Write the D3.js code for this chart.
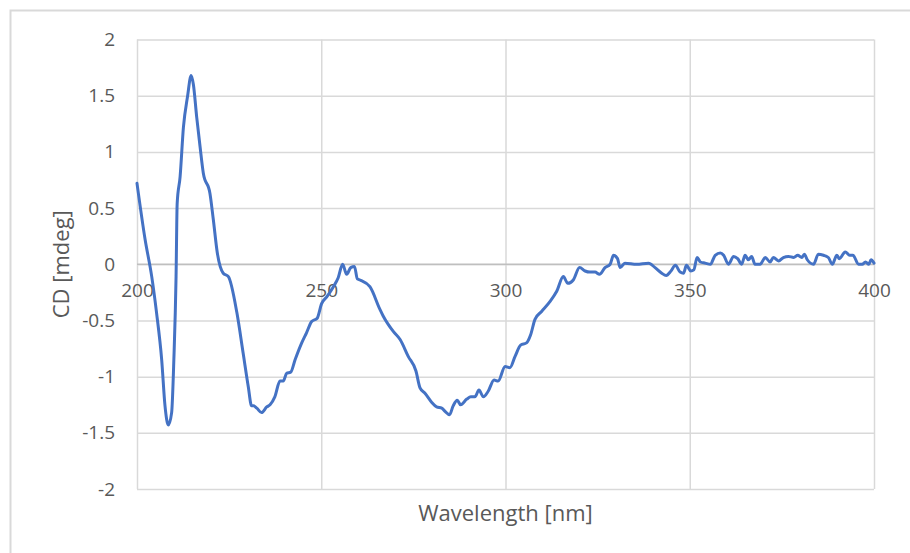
<!DOCTYPE html>
<html>
<head>
<meta charset="utf-8">
<script src="https://cdn.jsdelivr.net/npm/d3@7"></script>
<style>
  html, body { margin: 0; padding: 0; background: #fff; }
  svg { display: block; }
  text { font-family: "Open Sans", "Liberation Sans", sans-serif; fill: #595959; }
</style>
</head>
<body>
<svg id="chart" width="910" height="553"></svg>
<script>
// CD spectrum: wavelength (nm) and ellipticity (mdeg)
const wavelength = [
  200.0, 202.2, 204.0, 205.3, 206.7, 207.6, 208.5, 209.4, 210.0, 210.6,
  210.9, 211.7, 212.6, 213.7, 214.7, 215.3, 216.2, 217.1, 218.0, 219.8,
  220.7, 221.8, 223.4, 224.8, 227.1, 228.8, 230.2, 231.1, 231.6, 232.5,
  233.8, 235.2, 236.1, 237.4, 238.8, 239.7, 240.6, 241.7, 242.9, 244.7,
  246.0, 247.4, 248.9, 250.1, 251.5, 253.3, 254.6, 255.8, 256.9, 258.0,
  259.0, 259.8, 260.5, 263.2, 265.9, 266.8, 269.6, 271.4, 273.6, 275.7,
  276.8, 278.2, 280.0, 281.3, 282.7, 283.6, 284.8, 285.8, 286.9, 287.8,
  289.5, 290.6, 291.7, 292.8, 294.0, 295.3, 296.9, 298.0, 299.9, 301.2,
  302.6, 304.1, 305.7, 306.8, 308.0, 309.8, 312.1, 313.9, 315.7, 316.9,
  318.4, 320.1, 321.6, 322.9, 324.3, 325.5, 327.0, 328.4, 329.3, 330.4,
  331.1, 332.4, 335.6, 338.8, 340.6, 342.4, 343.6, 344.9, 346.1, 347.4,
  348.3, 349.1, 350.3, 351.1, 352.0, 352.9, 354.2, 355.6, 356.9, 358.3,
  359.2, 360.5, 361.9, 363.0, 364.1, 365.0, 365.9, 366.8, 367.7, 369.1,
  370.5, 371.8, 372.7, 374.1, 375.4, 376.8, 378.2, 379.3, 380.4, 381.1,
  381.9, 383.6, 384.9, 386.3, 387.6, 388.7, 389.9, 390.6, 392.2, 393.4,
  394.3, 395.8, 396.8, 397.7, 398.6, 399.2, 400.0
];
const cd = [
   0.72,  0.22, -0.11, -0.43, -0.85, -1.26, -1.43, -1.32, -0.85, -0.11,
   0.54,  0.78,  1.22,  1.49,  1.68,  1.60,  1.31,  1.05,  0.81,  0.63,
   0.40,  0.10, -0.08, -0.11, -0.43, -0.79, -1.09, -1.26, -1.26, -1.28,
  -1.32, -1.27, -1.25, -1.18, -1.04, -1.04, -0.97, -0.96, -0.85, -0.70,
  -0.61, -0.51, -0.48, -0.35, -0.29, -0.20, -0.12,  0.00, -0.09, -0.03,
  -0.02, -0.13, -0.14, -0.20, -0.40, -0.46, -0.60, -0.67, -0.82, -0.95,
  -1.10, -1.15, -1.23, -1.27, -1.28, -1.31, -1.34, -1.26, -1.21, -1.25,
  -1.20, -1.18, -1.18, -1.12, -1.18, -1.13, -1.03, -1.04, -0.91, -0.92,
  -0.82, -0.72, -0.70, -0.63, -0.49, -0.42, -0.33, -0.24, -0.11, -0.17,
  -0.14, -0.03, -0.06, -0.07, -0.07, -0.09, -0.03,  0.00,  0.08,  0.05,
  -0.03,  0.01,  0.00,  0.01, -0.03, -0.08, -0.10, -0.06, -0.01, -0.07,
  -0.08, -0.01, -0.06, -0.05,  0.06,  0.02,  0.01,  0.00,  0.08,  0.10,
   0.08,  0.00,  0.07,  0.05,  0.00,  0.08,  0.04,  0.07,  0.00,  0.00,
   0.06,  0.02,  0.06,  0.03,  0.06,  0.07,  0.06,  0.08,  0.06,  0.09,
   0.04,  0.00,  0.09,  0.08,  0.06,  0.00,  0.08,  0.05,  0.11,  0.08,
   0.08,  0.00,  0.00,  0.02,  0.00,  0.04,  0.01
];

const xTicks = [200, 250, 300, 350, 400];
const yTicks = [-2, -1.5, -1, -0.5, 0, 0.5, 1, 1.5, 2];
const xTitle = "Wavelength [nm]";
const yTitle = "CD [mdeg]";

const svg = d3.select("#chart");
const W = 910, H = 553;
const plot = { left: 137, right: 874, top: 39.5, bottom: 489 };

const x = d3.scaleLinear().domain([200, 400]).range([plot.left, plot.right]);
const y = d3.scaleLinear().domain([-2, 2]).range([plot.bottom, plot.top]);

// plain hyphen-minus tick text
const plainFormat = d => String(d);

// chart frame
svg.append("rect")
  .attr("x", 10.5).attr("y", 10.5)
  .attr("width", W + 20).attr("height", H + 20)
  .attr("fill", "none").attr("stroke", "#d9d9d9").attr("stroke-width", 2);

// horizontal gridlines
svg.append("g")
  .attr("transform", `translate(${plot.left},0)`)
  .call(d3.axisLeft(y).tickValues(yTicks).tickSize(-(plot.right - plot.left)).tickFormat(""))
  .call(g => g.select(".domain").remove())
  .call(g => g.selectAll("line").attr("stroke", "#d9d9d9").attr("stroke-width", 1.5));

// vertical gridlines
svg.append("g")
  .attr("transform", `translate(0,${plot.bottom})`)
  .call(d3.axisBottom(x).tickValues(xTicks).tickSize(-(plot.bottom - plot.top)).tickFormat(""))
  .call(g => g.select(".domain").remove())
  .call(g => g.selectAll("line").attr("stroke", "#d9d9d9").attr("stroke-width", 1.5));

// zero axis line
svg.append("line")
  .attr("x1", plot.left).attr("x2", plot.right)
  .attr("y1", y(0)).attr("y2", y(0))
  .attr("stroke", "#bfbfbf").attr("stroke-width", 1.5);

// y tick labels
svg.append("g")
  .attr("transform", `translate(${plot.left},0)`)
  .call(d3.axisLeft(y).tickValues(yTicks).tickSize(0).tickPadding(22).tickFormat(plainFormat))
  .call(g => g.select(".domain").remove())
  .call(g => g.selectAll("text")
    .style("font-family", '"Open Sans", sans-serif')
    .attr("font-size", 19).attr("fill", "#595959"));

// x tick labels sit along the zero line
svg.append("g")
  .attr("transform", `translate(0,${y(0)})`)
  .call(d3.axisBottom(x).tickValues(xTicks).tickSize(0).tickPadding(19).tickFormat(plainFormat))
  .call(g => g.select(".domain").remove())
  .call(g => g.selectAll("text")
    .style("font-family", '"Open Sans", sans-serif')
    .attr("font-size", 19).attr("fill", "#595959"));

// spectrum line
const data = wavelength.map((w, i) => ({ w, v: cd[i] }));
svg.append("path")
  .datum(data)
  .attr("fill", "none")
  .attr("stroke", "#4472c4")
  .attr("stroke-width", 3)
  .attr("stroke-linejoin", "round")
  .attr("stroke-linecap", "round")
  .attr("d", d3.line().x(d => x(d.w)).y(d => y(d.v)).curve(d3.curveMonotoneX));

// axis titles
svg.append("text")
  .attr("x", (plot.left + plot.right) / 2)
  .attr("y", 512)
  .attr("text-anchor", "middle")
  .attr("dominant-baseline", "central")
  .attr("font-size", 22)
  .text(xTitle);

svg.append("text")
  .attr("transform", `translate(60,${y(0)}) rotate(-90)`)
  .attr("text-anchor", "middle")
  .attr("dominant-baseline", "central")
  .attr("font-size", 22)
  .text(yTitle);
</script>
</body>
</html>
